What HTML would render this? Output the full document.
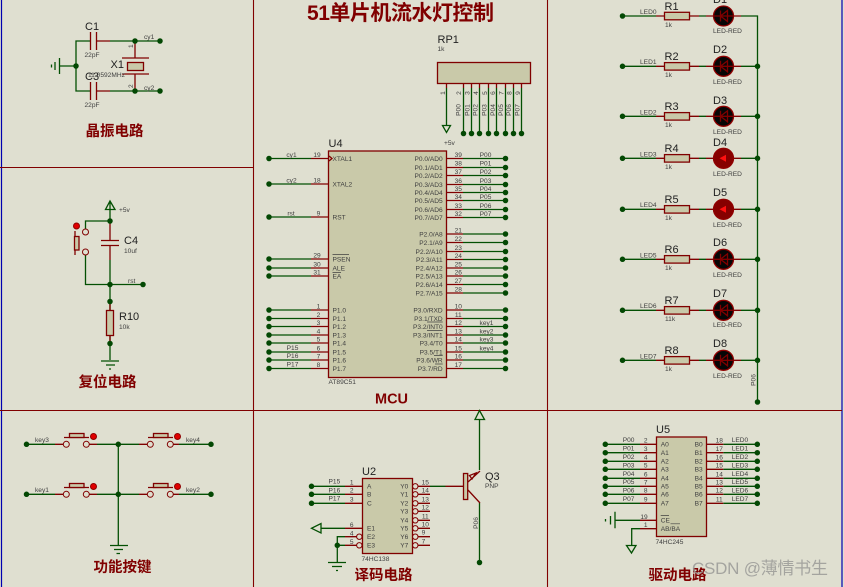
<!DOCTYPE html>
<html><head><meta charset="utf-8"><style>
html,body{margin:0;padding:0;background:#dfdfd0;width:844px;height:587px;overflow:hidden}
svg{display:block;position:absolute;left:0;top:0;filter:blur(.3px)}
text{font-family:"Liberation Sans","Noto Sans CJK SC",sans-serif}
.s{font-size:6.6px;fill:#404040}
.b{font-size:11px;fill:#222}
.m{text-anchor:middle}
.e{text-anchor:end}
.h{font-size:14.5px;font-weight:700;fill:#800000;text-anchor:middle}
.g{fill:none;stroke:#035003;stroke-width:1.3}
.r{fill:none;stroke:#800000;stroke-width:1.3}
.f{fill:#c9c9a9;stroke:#800000;stroke-width:1.3}
.n{fill:none;stroke:#034803;stroke-width:5.5;stroke-linecap:round}
.v{fill:none;stroke:#404040;stroke-width:.7}
</style></head><body>
<svg width="844" height="587" viewBox="0 0 844 587" xmlns="http://www.w3.org/2000/svg">
<rect width="844" height="587" fill="#dfdfd0"/>
<path d="M1.5 0V587M842 0V587" stroke="#0000b0" stroke-width="1.2" fill="none"/>
<path d="M253.5 0V587M547.5 0V587M0 167.5H253.5M0 410.5H842" stroke="#800000" stroke-width="1.1" fill="none"/>

<!-- title -->
<text x="307" y="20" font-size="21" font-weight="700" fill="#800000" textLength="187" lengthAdjust="spacing">51单片机流水灯控制</text>

<!-- crystal -->
<path class="g" d="M90 41H76V91H90M60 66H76M110 41H160M110 91H160M59.5 58V74M55 62V70M51.5 64.5V67.5"/>
<path class="r" d="M90.5 32V50M96.5 32V50M97 41H110M90.5 82V100M96.5 82V100M97 91H110M135 41V58M122 58H149M122 74H149M135 74V91"/>
<rect class="f" x="127.5" y="62.5" width="16" height="8"/>
<path class="n" d="M76 66h0M135 41h0M160 41h0M135 91h0M160 91h0"/>
<text class="b" x="85" y="30">C1</text><text class="s" x="84.5" y="57">22pF</text>
<text class="b" x="85" y="80">C3</text><text class="s" x="84.5" y="107">22pF</text>
<text class="b" x="110.5" y="68">X1</text><text class="s" x="88" y="77">11.0592MHz</text>
<text class="s" x="144" y="39">cy1</text><text class="s" x="144" y="90">cy2</text>
<text class="s" transform="rotate(-90 133 48)" x="133" y="48">1</text>
<text class="s" transform="rotate(-90 133 88)" x="133" y="88">2</text>
<text class="h" x="114.5" y="136">晶振电路</text>

<!-- reset -->
<path class="g" d="M110 221V201M105.5 209.5H115L110 201ZM110 221H85.5V229M85.5 255V284.5H143M110 260V360M101 361H119M106 365H115M109 369H111"/>
<path class="r" d="M110 221V240M101 240.5H119M101 245.5H119M110 245.5V260M75 231V255M110 301V310M110 335V343"/>
<rect class="f" x="74.5" y="236.5" width="4.5" height="13.5"/>
<rect x="106.5" y="310.5" width="7" height="25" class="f"/>
<circle cx="85.5" cy="232" r="3" fill="#dfdfd0" stroke="#800000"/>
<circle cx="85.5" cy="252" r="3" fill="#dfdfd0" stroke="#800000"/>
<circle cx="76.5" cy="226" r="3" fill="#e00000" stroke="#900000"/>
<path class="n" d="M110 221h0M110 284.5h0M143 284.5h0M110 301.5h0M110 343.5h0"/>
<text class="s" x="119" y="212">+5v</text>
<text class="b" x="124" y="244">C4</text><text class="s" x="124" y="253">10uf</text>
<text class="s" x="128" y="283">rst</text>
<text class="b" x="119" y="320">R10</text><text class="s" x="119" y="329">10k</text>
<text class="h" x="107.5" y="387">复位电路</text>

<!-- RP1 -->
<rect class="f" x="437.5" y="62.5" width="93" height="21"/>
<path class="g" d="M446.5 88V125M442.5 125.5H450.5L446.5 132.5ZM463.5 88V133M471.5 88V133M479.5 88V133M488.5 88V133M496.5 88V133M505.5 88V133M513.5 88V133M521.5 88V133"/>
<path class="r" d="M446.5 83V88M463.5 83V88M471.5 83V88M479.5 83V88M488.5 83V88M496.5 83V88M505.5 83V88M513.5 83V88M521.5 83V88"/>
<path class="n" d="M463.5 133.5h0M471.5 133.5h0M479.5 133.5h0M488.5 133.5h0M496.5 133.5h0M505.5 133.5h0M513.5 133.5h0M521.5 133.5h0"/>
<text class="b" x="437.5" y="43">RP1</text><text class="s" x="437.5" y="51">1k</text>
<text class="s" x="444" y="145">+5v</text>
<text class="s m" transform="rotate(-90 445 93)" x="445" y="93">1</text>
<text class="s m" transform="rotate(-90 461 93)" x="461" y="93">2</text>
<text class="s m" transform="rotate(-90 469.5 93)" x="469.5" y="93">3</text>
<text class="s m" transform="rotate(-90 478 93)" x="478" y="93">4</text>
<text class="s m" transform="rotate(-90 487 93)" x="487" y="93">5</text>
<text class="s m" transform="rotate(-90 495 93)" x="495" y="93">6</text>
<text class="s m" transform="rotate(-90 503.5 93)" x="503.5" y="93">7</text>
<text class="s m" transform="rotate(-90 511.5 93)" x="511.5" y="93">8</text>
<text class="s m" transform="rotate(-90 520 93)" x="520" y="93">9</text>
<text class="s m" transform="rotate(-90 460.7 110)" x="460.7" y="110">P00</text>
<text class="s m" transform="rotate(-90 469.3 110)" x="469.3" y="110">P01</text>
<text class="s m" transform="rotate(-90 477.7 110)" x="477.7" y="110">P02</text>
<text class="s m" transform="rotate(-90 486.3 110)" x="486.3" y="110">P03</text>
<text class="s m" transform="rotate(-90 495 110)" x="495" y="110">P04</text>
<text class="s m" transform="rotate(-90 503 110)" x="503" y="110">P05</text>
<text class="s m" transform="rotate(-90 511 110)" x="511" y="110">P06</text>
<text class="s m" transform="rotate(-90 519.7 110)" x="519.7" y="110">P07</text>

<!-- MCU U4 -->
<rect class="f" x="328.5" y="151" width="118" height="226.5" stroke-width="1.5"/>
<path class="g" d="M269.5 158.5H311M269.5 184H311M269.5 217H311M269.5 259H311M269.5 268H311M269.5 276H311M269.5 310H311M269.5 318.5H311M269.5 326.5H311M269.5 335H311M269.5 343H311M269.5 352H311M269.5 360H311M269.5 368.5H311"/>
<path class="r" d="M311 158.5H328M311 184H328M311 217H328M311 259H328M311 268H328M311 276H328M311 310H328M311 318.5H328M311 326.5H328M311 335H328M311 343H328M311 352H328M311 360H328M311 368.5H328M329 156L332 158.5L329 161"/>
<path class="n" d="M269 158.5h0M269 184h0M269 217h0M269 259h0M269 268h0M269 276h0M269 310h0M269 318.5h0M269 326.5h0M269 335h0M269 343h0M269 352h0M269 360h0M269 368.5h0"/>
<path class="r" d="M446.5 158.5H463M446.5 167.5H463M446.5 175.5H463M446.5 184.5H463M446.5 192.5H463M446.5 200.5H463M446.5 209.5H463M446.5 217.5H463M446.5 234H463M446.5 242.5H463M446.5 251.5H463M446.5 259.5H463M446.5 268H463M446.5 276H463M446.5 284.5H463M446.5 293H463M446.5 310H463M446.5 318.5H463M446.5 326.5H463M446.5 335H463M446.5 343H463M446.5 352H463M446.5 360H463M446.5 368.5H463"/>
<path class="g" d="M463 158.5H505M463 167.5H505M463 175.5H505M463 184.5H505M463 192.5H505M463 200.5H505M463 209.5H505M463 217.5H505M463 234H505M463 242.5H505M463 251.5H505M463 259.5H505M463 268H505M463 276H505M463 284.5H505M463 293H505M463 310H505M463 318.5H505M463 326.5H505M463 335H505M463 343H505M463 352H505M463 360H505M463 368.5H505"/>
<path class="n" d="M505.5 158.5h0M505.5 167.5h0M505.5 175.5h0M505.5 184.5h0M505.5 192.5h0M505.5 200.5h0M505.5 209.5h0M505.5 217.5h0M505.5 234h0M505.5 242.5h0M505.5 251.5h0M505.5 259.5h0M505.5 268h0M505.5 276h0M505.5 284.5h0M505.5 293h0M505.5 310h0M505.5 318.5h0M505.5 326.5h0M505.5 335h0M505.5 343h0M505.5 352h0M505.5 360h0M505.5 368.5h0"/>
<path class="v" d="M332.5 254.5H349M332.5 272.5H341M427 322H442.7M427 330.500H442.7M434 355.500H442.7M435 364H442.7"/>
<text class="b" x="328.5" y="147">U4</text><text class="s" x="328.5" y="384">AT89C51</text>
<text class="s m" x="291.5" y="157">cy1</text><text class="s m" x="291.5" y="182.5">cy2</text><text class="s m" x="291" y="215.5">rst</text>
<text class="s m" x="292.5" y="350">P15</text><text class="s m" x="292.5" y="358">P16</text><text class="s m" x="292.5" y="366.5">P17</text>
<text class="s m" x="317" y="157">19</text><text class="s m" x="317" y="182.5">18</text><text class="s m" x="318.5" y="215.5">9</text><text class="s m" x="317" y="257.5">29</text><text class="s m" x="317" y="266.5">30</text><text class="s m" x="317" y="274.5">31</text>
<text class="s m" x="318.5" y="308.5">1</text><text class="s m" x="318.5" y="317">2</text><text class="s m" x="318.5" y="325">3</text><text class="s m" x="318.5" y="333.5">4</text><text class="s m" x="318.5" y="341.5">5</text><text class="s m" x="318.5" y="350.5">6</text><text class="s m" x="318.5" y="358.5">7</text><text class="s m" x="318.5" y="367">8</text>
<text class="s" x="332.5" y="161">XTAL1</text><text class="s" x="332.5" y="186.5">XTAL2</text><text class="s" x="332.5" y="219.5">RST</text>
<text class="s" x="332.5" y="261.5">PSEN</text><text class="s" x="332.5" y="270.5">ALE</text><text class="s" x="332.5" y="278.5">EA</text>
<text class="s" x="332.5" y="312.5">P1.0</text><text class="s" x="332.5" y="321">P1.1</text><text class="s" x="332.5" y="329">P1.2</text><text class="s" x="332.5" y="337.5">P1.3</text><text class="s" x="332.5" y="345.5">P1.4</text><text class="s" x="332.5" y="354.5">P1.5</text><text class="s" x="332.5" y="362.5">P1.6</text><text class="s" x="332.5" y="371">P1.7</text>
<text class="s e" x="442.7" y="161">P0.0/AD0</text><text class="s e" x="442.7" y="170">P0.1/AD1</text><text class="s e" x="442.7" y="178">P0.2/AD2</text><text class="s e" x="442.7" y="187">P0.3/AD3</text><text class="s e" x="442.7" y="195">P0.4/AD4</text><text class="s e" x="442.7" y="203">P0.5/AD5</text><text class="s e" x="442.7" y="212">P0.6/AD6</text><text class="s e" x="442.7" y="220">P0.7/AD7</text>
<text class="s e" x="442.7" y="236.5">P2.0/A8</text><text class="s e" x="442.7" y="245">P2.1/A9</text><text class="s e" x="442.7" y="254">P2.2/A10</text><text class="s e" x="442.7" y="262">P2.3/A11</text><text class="s e" x="442.7" y="270.5">P2.4/A12</text><text class="s e" x="442.7" y="278.5">P2.5/A13</text><text class="s e" x="442.7" y="287">P2.6/A14</text><text class="s e" x="442.7" y="295.5">P2.7/A15</text>
<text class="s e" x="442.7" y="312.5">P3.0/RXD</text><text class="s e" x="442.7" y="321">P3.1/TXD</text><text class="s e" x="442.7" y="329">P3.2/INT0</text><text class="s e" x="442.7" y="337.5">P3.3/INT1</text><text class="s e" x="442.7" y="345.5">P3.4/T0</text><text class="s e" x="442.7" y="354.5">P3.5/T1</text><text class="s e" x="442.7" y="362.5">P3.6/WR</text><text class="s e" x="442.7" y="371">P3.7/RD</text>
<text class="s m" x="458.3" y="157">39</text><text class="s m" x="458.3" y="165.5">38</text><text class="s m" x="458.3" y="174">37</text><text class="s m" x="458.3" y="183">36</text><text class="s m" x="458.3" y="191">35</text><text class="s m" x="458.3" y="199">34</text><text class="s m" x="458.3" y="208">33</text><text class="s m" x="458.3" y="216">32</text>
<text class="s m" x="458.3" y="232.5">21</text><text class="s m" x="458.3" y="241">22</text><text class="s m" x="458.3" y="250">23</text><text class="s m" x="458.3" y="258">24</text><text class="s m" x="458.3" y="266.5">25</text><text class="s m" x="458.3" y="274.5">26</text><text class="s m" x="458.3" y="283">27</text><text class="s m" x="458.3" y="291.5">28</text>
<text class="s m" x="458.3" y="308.5">10</text><text class="s m" x="458.3" y="317">11</text><text class="s m" x="458.3" y="325">12</text><text class="s m" x="458.3" y="333.5">13</text><text class="s m" x="458.3" y="341.5">14</text><text class="s m" x="458.3" y="350.5">15</text><text class="s m" x="458.3" y="358.5">16</text><text class="s m" x="458.3" y="367">17</text>
<text class="s m" x="485.5" y="157">P00</text><text class="s m" x="485.5" y="165.5">P01</text><text class="s m" x="485.5" y="174">P02</text><text class="s m" x="485.5" y="183">P03</text><text class="s m" x="485.5" y="191">P04</text><text class="s m" x="485.5" y="199">P05</text><text class="s m" x="485.5" y="208">P06</text><text class="s m" x="485.5" y="216">P07</text>
<text class="s m" x="486.5" y="325">key1</text><text class="s m" x="486.5" y="333.5">key2</text><text class="s m" x="486.5" y="341.5">key3</text><text class="s m" x="486.5" y="350.5">key4</text>
<text class="h" x="391.5" y="403.5">MCU</text>

<!-- LEDs -->
<path class="g" d="M622.5 16H656M622.5 66.3H656M622.5 116.3H656M622.5 158.3H656M622.5 209.3H656M622.5 259.3H656M622.5 310.3H656M622.5 360.3H656M699 16H706M699 66.3H706M699 116.3H706M699 158.3H706M699 209.3H706M699 259.3H706M699 310.3H706M699 360.3H706M741 16H757.5V402M741 66.3H757.5M741 116.3H757.5M741 158.3H757.5M741 209.3H757.5M741 259.3H757.5M741 310.3H757.5M741 360.3H757.5"/>
<path class="r" d="M656 16H664M690 16H699M706 16H713M734 16H741M656 66.3H664M690 66.3H699M706 66.3H713M734 66.3H741M656 116.3H664M690 116.3H699M706 116.3H713M734 116.3H741M656 158.3H664M690 158.3H699M706 158.3H713M734 158.3H741M656 209.3H664M690 209.3H699M706 209.3H713M734 209.3H741M656 259.3H664M690 259.3H699M706 259.3H713M734 259.3H741M656 310.3H664M690 310.3H699M706 310.3H713M734 310.3H741M656 360.3H664M690 360.3H699M706 360.3H713M734 360.3H741"/>
<g class="f">
<rect x="664.5" y="12.3" width="25" height="7.5"/><rect x="664.5" y="62.6" width="25" height="7.5"/><rect x="664.5" y="112.6" width="25" height="7.5"/><rect x="664.5" y="154.6" width="25" height="7.5"/><rect x="664.5" y="205.6" width="25" height="7.5"/><rect x="664.5" y="255.6" width="25" height="7.5"/><rect x="664.5" y="306.6" width="25" height="7.5"/><rect x="664.5" y="356.6" width="25" height="7.5"/>
</g>
<g fill="#060606" stroke="#900000" stroke-width="1.3">
<circle cx="723.5" cy="16" r="10"/><circle cx="723.5" cy="66.3" r="10"/><circle cx="723.5" cy="116.3" r="10"/><circle cx="723.5" cy="259.3" r="10"/><circle cx="723.5" cy="310.3" r="10"/><circle cx="723.5" cy="360.3" r="10"/>
</g>
<g fill="#860000" stroke="#900000" stroke-width="1.3"><circle cx="723.5" cy="158.3" r="10"/><circle cx="723.5" cy="209.3" r="10"/></g>
<path class="r" d="M713 16H734M720.5 10.5V21.5M720.5 16L727.5 10.5V21.5ZM713 66.3H734M720.5 60.8V71.8M720.5 66.3L727.5 60.8V71.8ZM713 116.3H734M720.5 110.8V121.8M720.5 116.3L727.5 110.8V121.8ZM713 259.3H734M720.5 253.8V264.8M720.5 259.3L727.5 253.8V264.8ZM713 310.3H734M720.5 304.8V315.8M720.5 310.3L727.5 304.8V315.8ZM713 360.3H734M720.5 354.8V365.8M720.5 360.3L727.5 354.8V365.8Z"/>
<path fill="#ff1010" d="M719.5 158.3L726 154.8V161.8ZM719.5 209.3L726 205.8V212.8Z"/>
<path class="n" d="M622.5 16h0M622.5 66.3h0M622.5 116.3h0M622.5 158.3h0M622.5 209.3h0M622.5 259.3h0M622.5 310.3h0M622.5 360.3h0M757.5 66.3h0M757.5 116.3h0M757.5 158.3h0M757.5 209.3h0M757.5 259.3h0M757.5 310.3h0M757.5 360.3h0M757.5 402h0"/>
<text class="s" x="640" y="14">LED0</text><text class="s" x="640" y="64">LED1</text><text class="s" x="640" y="114.5">LED2</text><text class="s" x="640" y="156.5">LED3</text><text class="s" x="640" y="207">LED4</text><text class="s" x="640" y="257.5">LED5</text><text class="s" x="640" y="308">LED6</text><text class="s" x="640" y="358.5">LED7</text>
<text class="b" x="664.5" y="10">R1</text><text class="b" x="664.5" y="60">R2</text><text class="b" x="664.5" y="110">R3</text><text class="b" x="664.5" y="152">R4</text><text class="b" x="664.5" y="203">R5</text><text class="b" x="664.5" y="253">R6</text><text class="b" x="664.5" y="304">R7</text><text class="b" x="664.5" y="354">R8</text>
<text class="s" x="665" y="27">1k</text><text class="s" x="665" y="77">1k</text><text class="s" x="665" y="127">1k</text><text class="s" x="665" y="169">1k</text><text class="s" x="665" y="220">1k</text><text class="s" x="665" y="270">1k</text><text class="s" x="665" y="321">11k</text><text class="s" x="665" y="371">1k</text>
<text class="b" x="713" y="3">D1</text><text class="b" x="713" y="53">D2</text><text class="b" x="713" y="104">D3</text><text class="b" x="713" y="146">D4</text><text class="b" x="713" y="196">D5</text><text class="b" x="713" y="246">D6</text><text class="b" x="713" y="297">D7</text><text class="b" x="713" y="347">D8</text>
<text class="s" x="713" y="33">LED-RED</text><text class="s" x="713" y="84">LED-RED</text><text class="s" x="713" y="134">LED-RED</text><text class="s" x="713" y="176">LED-RED</text><text class="s" x="713" y="227">LED-RED</text><text class="s" x="713" y="277">LED-RED</text><text class="s" x="713" y="327">LED-RED</text><text class="s" x="713" y="378">LED-RED</text>
<text class="s m" transform="rotate(-90 755.5 380)" x="755.5" y="380">P06</text>

<!-- keys -->
<path class="g" d="M26.5 444.3H55M26.5 494.3H55M97 444.3H139M97 494.3H139M179 444.3H211M179 494.3H211M118.3 444.3V545.5M110 545.5H128M114 549.5H123M116.5 553.5H120"/>
<path class="r" d="M55 444.3H63M89 444.3H97M139 444.3H147M173 444.3H179M55 494.3H63M89 494.3H97M139 494.3H147M173 494.3H179M64 437.5H89M148 437.5H173M64 487.5H89M148 487.5H173"/>
<g class="f"><rect x="69.5" y="433.5" width="14.5" height="4"/><rect x="153.5" y="433.5" width="14.5" height="4"/><rect x="69.5" y="483.5" width="14.5" height="4"/><rect x="153.5" y="483.5" width="14.5" height="4"/></g>
<g fill="#dfdfd0" stroke="#800000"><circle cx="66.3" cy="444.3" r="3"/><circle cx="86.3" cy="444.3" r="3"/><circle cx="150.3" cy="444.3" r="3"/><circle cx="170.3" cy="444.3" r="3"/><circle cx="66.3" cy="494.3" r="3"/><circle cx="86.3" cy="494.3" r="3"/><circle cx="150.3" cy="494.3" r="3"/><circle cx="170.3" cy="494.3" r="3"/></g>
<g fill="#e00000" stroke="#900000"><circle cx="93.5" cy="436.5" r="3"/><circle cx="177.5" cy="436.5" r="3"/><circle cx="93.5" cy="486.5" r="3"/><circle cx="177.5" cy="486.5" r="3"/></g>
<path class="n" d="M26.5 444.3h0M26.5 494.3h0M118.3 444.3h0M118.3 494.3h0M211 444.3h0M211 494.3h0"/>
<text class="s" x="35" y="442">key3</text><text class="s" x="35" y="492">key1</text><text class="s" x="186" y="442">key4</text><text class="s" x="186" y="492">key2</text>
<text class="h" x="122.5" y="572">功能按键</text>

<!-- U2 -->
<rect class="f" x="362.5" y="478.5" width="50" height="75"/>
<path class="g" d="M311.5 486.3H345M311.5 494.3H345M311.5 503.3H345M321 528.3H345M321 523.5V533L311.5 528.3ZM345 536.7H337.3V562.5M337.3 545.3H345M328 562.5H346M332 566.5H342M336 570.5H338M430 486.3H445.5M479.5 470V419.5M475 419.5H484.5L479.5 410.5ZM479.5 503V562.5"/>
<path class="r" d="M345 486.3H362M345 494.3H362M345 503.3H362M345 528.3H362M345 536.7H356.5M345 545.3H356.5M418 486.3H430M418 494.3H430M418 503.3H430M418 511.3H430M418 520.3H430M418 528.3H430M418 536.7H430M418 545.3H430M445.5 486.3H463.5M468 482L480 471M468 490L480 503M472 479L476 473L469.5 475.5Z"/>
<g fill="#dfdfd0" stroke="#800000"><circle cx="359.3" cy="536.7" r="2.7"/><circle cx="359.3" cy="545.3" r="2.7"/><circle cx="415.3" cy="486.3" r="2.7"/><circle cx="415.3" cy="494.3" r="2.7"/><circle cx="415.3" cy="503.3" r="2.7"/><circle cx="415.3" cy="511.3" r="2.7"/><circle cx="415.3" cy="520.3" r="2.7"/><circle cx="415.3" cy="528.3" r="2.7"/><circle cx="415.3" cy="536.7" r="2.7"/><circle cx="415.3" cy="545.3" r="2.7"/></g>
<rect class="f" x="463.5" y="473.5" width="4.2" height="26"/>
<path class="n" d="M311.5 486.3h0M311.5 494.3h0M311.5 503.3h0M337.3 545.3h0M479.5 562.5h0"/>
<text class="b" x="362" y="475">U2</text><text class="s" x="361.5" y="561">74HC138</text>
<text class="s" x="328.5" y="483.7">P15</text><text class="s" x="328.5" y="492.7">P16</text><text class="s" x="328.5" y="500.7">P17</text>
<text class="s m" x="351.7" y="484.5">1</text><text class="s m" x="351.7" y="492.5">2</text><text class="s m" x="351.7" y="501.5">3</text><text class="s m" x="351.7" y="527">6</text><text class="s m" x="351.7" y="535.5">4</text><text class="s m" x="351.7" y="544">5</text>
<text class="s" x="367" y="488.7">A</text><text class="s" x="367" y="496.7">B</text><text class="s" x="367" y="505.7">C</text><text class="s" x="367" y="530.7">E1</text><text class="s" x="367" y="539">E2</text><text class="s" x="367" y="547.7">E3</text>
<text class="s e" x="408.3" y="488.7">Y0</text><text class="s e" x="408.3" y="496.7">Y1</text><text class="s e" x="408.3" y="505.7">Y2</text><text class="s e" x="408.3" y="513.7">Y3</text><text class="s e" x="408.3" y="522.7">Y4</text><text class="s e" x="408.3" y="530.7">Y5</text><text class="s e" x="408.3" y="539">Y6</text><text class="s e" x="408.3" y="547.7">Y7</text>
<text class="s m" x="425.3" y="484.7">15</text><text class="s m" x="425.3" y="492.7">14</text><text class="s m" x="425.3" y="501.7">13</text><text class="s m" x="425.3" y="509.7">12</text><text class="s m" x="425.3" y="518.7">11</text><text class="s m" x="425.3" y="526.7">10</text><text class="s m" x="423.5" y="534.7">9</text><text class="s m" x="423.5" y="543.7">7</text>
<text class="b" x="485" y="480">Q3</text><text class="s" x="485" y="488">PNP</text>
<text class="s m" transform="rotate(-90 478 523)" x="478" y="523">P06</text>
<text class="h" x="383.5" y="580">译码电路</text>

<!-- U5 -->
<rect class="f" x="656.5" y="437" width="50" height="99.5"/>
<path class="g" d="M605.3 444.3H640M605.3 452.7H640M605.3 461.3H640M605.3 469.3H640M605.3 478.3H640M605.3 486.3H640M605.3 494.3H640M605.3 503.3H640M723.3 444.3H757.3M723.3 452.7H757.3M723.3 461.3H757.3M723.3 469.3H757.3M723.3 478.3H757.3M723.3 486.3H757.3M723.3 494.3H757.3M723.3 503.3H757.3M640 520.3H615M615 511.7V528.3M610.5 516V524.5M605.5 519V521.5M640 528.7H631.7V545.5M626.5 545.5H636L631.5 553Z"/>
<path class="r" d="M640 444.3H656M640 452.7H656M640 461.3H656M640 469.3H656M640 478.3H656M640 486.3H656M640 494.3H656M640 503.3H656M640 520.3H656M640 528.7H656M707 444.3H723.3M707 452.7H723.3M707 461.3H723.3M707 469.3H723.3M707 478.3H723.3M707 486.3H723.3M707 494.3H723.3M707 503.3H723.3"/>
<path class="n" d="M605.3 444.3h0M605.3 452.7h0M605.3 461.3h0M605.3 469.3h0M605.3 478.3h0M605.3 486.3h0M605.3 494.3h0M605.3 503.3h0M757.3 444.3h0M757.3 452.7h0M757.3 461.3h0M757.3 469.3h0M757.3 478.3h0M757.3 486.3h0M757.3 494.3h0M757.3 503.3h0"/>
<path class="v" d="M660.7 515.5H669M670.5 523.8H680"/>
<text class="b" x="656" y="433">U5</text><text class="s" x="655.5" y="544">74HC245</text>
<text class="s" x="622.7" y="442">P00</text><text class="s" x="622.7" y="450.6">P01</text><text class="s" x="622.7" y="459">P02</text><text class="s" x="622.7" y="467.3">P03</text><text class="s" x="622.7" y="476">P04</text><text class="s" x="622.7" y="484">P05</text><text class="s" x="622.7" y="492.6">P06</text><text class="s" x="622.7" y="501">P07</text>
<text class="s m" x="645.7" y="442.5">2</text><text class="s m" x="645.7" y="450.8">3</text><text class="s m" x="645.7" y="459.5">4</text><text class="s m" x="645.7" y="467.5">5</text><text class="s m" x="645.7" y="476.5">6</text><text class="s m" x="645.7" y="484.5">7</text><text class="s m" x="645.7" y="492.5">8</text><text class="s m" x="645.7" y="501.5">9</text><text class="s m" x="644" y="519">19</text><text class="s m" x="645.7" y="526.8">1</text>
<text class="s" x="660.7" y="446.6">A0</text><text class="s" x="660.7" y="455">A1</text><text class="s" x="660.7" y="463.6">A2</text><text class="s" x="660.7" y="471.6">A3</text><text class="s" x="660.7" y="480.6">A4</text><text class="s" x="660.7" y="488.6">A5</text><text class="s" x="660.7" y="496.6">A6</text><text class="s" x="660.7" y="505.6">A7</text><text class="s" x="660.7" y="522.6">CE</text><text class="s" x="660.7" y="531">AB/BA</text>
<text class="s e" x="702.7" y="446.6">B0</text><text class="s e" x="702.7" y="455">B1</text><text class="s e" x="702.7" y="463.6">B2</text><text class="s e" x="702.7" y="471.6">B3</text><text class="s e" x="702.7" y="480.6">B4</text><text class="s e" x="702.7" y="488.6">B5</text><text class="s e" x="702.7" y="496.6">B6</text><text class="s e" x="702.7" y="505.6">B7</text>
<text class="s m" x="719.3" y="442.5">18</text><text class="s m" x="719.3" y="450.8">17</text><text class="s m" x="719.3" y="459.5">16</text><text class="s m" x="719.3" y="467.5">15</text><text class="s m" x="719.3" y="476.5">14</text><text class="s m" x="719.3" y="484.5">13</text><text class="s m" x="719.3" y="492.5">12</text><text class="s m" x="719.3" y="501.5">11</text>
<text class="s" x="731.7" y="442">LED0</text><text class="s" x="731.7" y="450.6">LED1</text><text class="s" x="731.7" y="459">LED2</text><text class="s" x="731.7" y="467.3">LED3</text><text class="s" x="731.7" y="476">LED4</text><text class="s" x="731.7" y="484">LED5</text><text class="s" x="731.7" y="492.6">LED6</text><text class="s" x="731.7" y="501">LED7</text>
<text class="h" x="677.5" y="580">驱动电路</text>

<!-- watermark -->
<text x="692" y="574" font-size="17" fill="#9a9a96" fill-opacity=".85" textLength="136" lengthAdjust="spacing">CSDN @薄情书生</text>
</svg>
</body></html>
